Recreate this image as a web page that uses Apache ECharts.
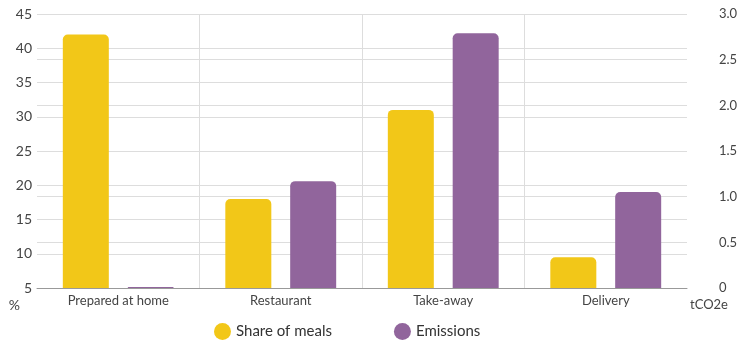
<!DOCTYPE html>
<html>
<head>
<meta charset="utf-8">
<script src="https://cdn.jsdelivr.net/npm/echarts@6/dist/echarts.min.js"></script>
<style>
html, body { margin: 0; padding: 0; background: #fff; }
#chart { width: 742px; height: 340px; }
</style>
</head>
<body>
<div id="chart"></div>
<script>
// categories and values
var categories = ["Prepared at home", "Restaurant", "Take-away", "Delivery"];
var shareOfMeals = [42, 18, 31, 9.5];      // %
var emissions = [0.01, 1.17, 2.79, 1.05];  // tCO2e

var yellow = "#F2C718";
var purple = "#91659C";
var font = "Lato";

var myChart = echarts.init(document.getElementById("chart"));
var option = {
    animation: false,
    textStyle: { fontFamily: font },
    grid: { left: 37, right: 55, top: 14, bottom: 52 },
    legend: {
        bottom: -5,
        left: 209,
        icon: "circle",
        itemWidth: 17,
        itemHeight: 17,
        itemGap: 62,
        textStyle: { fontSize: 15, color: "#333", fontFamily: font },
        data: ["Share of meals", "Emissions"]
    },
    xAxis: {
        type: "category",
        data: categories,
        axisLine: { lineStyle: { color: "#999" } },
        axisTick: { show: false },
        axisLabel: { color: "#444", fontSize: 13, margin: 6 },
        splitLine: { show: true, showMinLine: false, showMaxLine: false, lineStyle: { color: "#ddd" } }
    },
    yAxis: [
        {
            type: "value",
            min: 5,
            max: 45,
            interval: 5,
            name: "%",
            nameLocation: "start",
            nameGap: 10,
            nameTextStyle: { color: "#444", fontSize: 14, align: "right", padding: [0, 17, 0, 0], verticalAlign: "top" },
            axisLine: { show: false },
            axisTick: { show: false },
            axisLabel: { color: "#444", fontSize: 14, margin: 5 },
            splitLine: { lineStyle: { color: "#ddd" } }
        },
        {
            type: "value",
            min: 0,
            max: 3,
            interval: 0.5,
            name: "tCO2e",
            nameLocation: "start",
            nameGap: 10,
            nameTextStyle: { color: "#444", fontSize: 13, align: "center", padding: [0, 0, 0, 44], verticalAlign: "top" },
            axisLine: { show: false },
            axisTick: { show: false },
            axisLabel: {
                color: "#444",
                fontSize: 13,
                margin: 32,
                formatter: function (v) { return v === 0 ? "0" : v.toFixed(1); }
            },
            splitLine: { lineStyle: { color: "#ddd" } }
        }
    ],
    series: [
        {
            name: "Share of meals",
            type: "bar",
            yAxisIndex: 0,
            data: shareOfMeals,
            barWidth: 46,
            barGap: "41%",
            itemStyle: { color: yellow, borderRadius: [5, 5, 0, 0] }
        },
        {
            name: "Emissions",
            type: "bar",
            yAxisIndex: 1,
            data: emissions,
            barWidth: 46,
            barGap: "41%",
            itemStyle: { color: purple, borderRadius: [5, 5, 0, 0] }
        }
    ]
};
myChart.setOption(option, true);
</script>
</body>
</html>
